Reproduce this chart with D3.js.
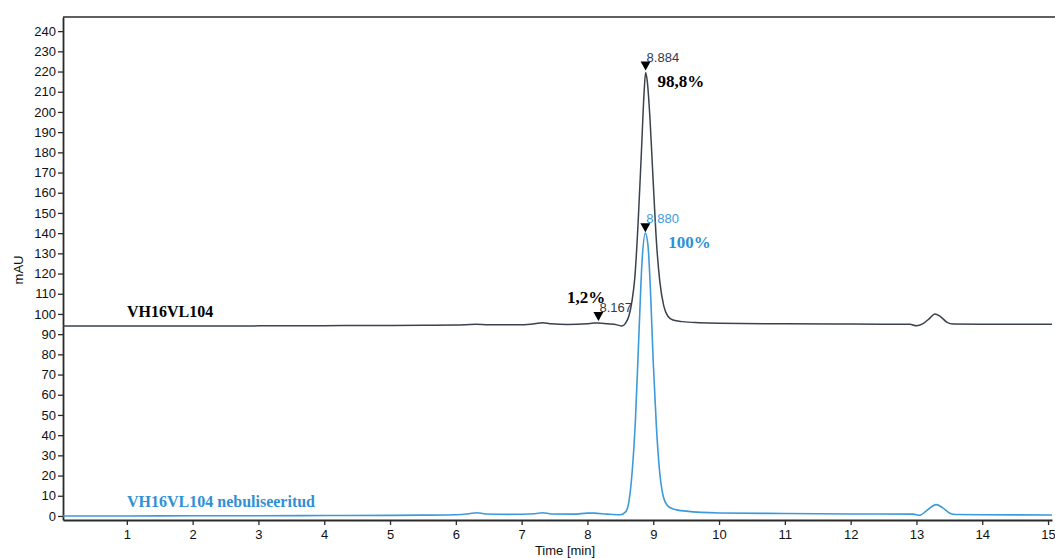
<!DOCTYPE html>
<html>
<head>
<meta charset="utf-8">
<script src="https://cdn.jsdelivr.net/npm/d3@7/dist/d3.min.js"></script>
<style>
  html, body { margin: 0; padding: 0; background: #ffffff; }
  svg { display: block; }
</style>
</head>
<body>
<svg id="chart" width="1055" height="558"></svg>
<script>
// ---- Data ----
const xTicks = [1,2,3,4,5,6,7,8,9,10,11,12,13,14,15];
const yTicks = [0,10,20,30,40,50,60,70,80,90,100,110,120,130,140,150,160,170,180,190,200,210,220,230,240];

// VH16VL104 (black trace): time [min]
const blackTime = [0.03, 1, 2, 3, 4, 5, 5.5, 6.0, 6.3, 6.5, 7.0, 7.2, 7.32, 7.45, 7.7, 8.0, 8.1, 8.167, 8.3, 8.45, 8.52, 8.58, 8.63, 8.68, 8.72, 8.77, 8.82, 8.86, 8.884, 8.91, 8.95, 9.0, 9.05, 9.1, 9.16, 9.22, 9.3, 9.45, 9.7, 10, 11, 12, 12.9, 13.0, 13.1, 13.2, 13.28, 13.36, 13.46, 13.56, 14, 15.06];
// VH16VL104 (black trace): signal [mAU]
const blackValue = [94.0, 94.0, 94.0, 94.1, 94.2, 94.3, 94.4, 94.5, 94.9, 94.6, 94.7, 95.2, 95.7, 95.1, 94.8, 95.2, 95.5, 95.5, 95.1, 94.6, 94.0, 95.5, 99, 107, 118, 145, 180, 209, 219.5, 215, 197, 165, 135, 116, 104, 99, 97, 96.2, 95.7, 95.4, 95.1, 95.0, 94.9, 94.1, 95.2, 97.8, 100, 98.8, 96.0, 95.0, 94.9, 94.9];

// VH16VL104 nebuliseeritud (blue trace): time [min]
const blueTime = [0.03, 1, 2, 3, 4, 5, 5.5, 6.0, 6.2, 6.32, 6.45, 6.8, 7.2, 7.32, 7.45, 7.8, 8.0, 8.1, 8.3, 8.5, 8.58, 8.63, 8.68, 8.73, 8.78, 8.83, 8.88, 8.92, 8.96, 9.0, 9.05, 9.1, 9.15, 9.22, 9.3, 9.5, 10, 11, 12, 12.95, 13.05, 13.15, 13.3, 13.4, 13.5, 13.6, 14, 15.06];
// VH16VL104 nebuliseeritud (blue trace): signal [mAU]
const blueValue = [0.0, 0.0, 0.1, 0.1, 0.2, 0.3, 0.4, 0.6, 1.1, 1.6, 1.0, 0.8, 1.1, 1.6, 1.0, 0.9, 1.4, 1.4, 0.9, 0.6, 2, 7, 22, 48, 88, 126, 140, 134, 110, 76, 43, 21, 10, 5, 3.5, 2.4, 1.5, 1.2, 1.0, 0.9, 0.3, 2.5, 5.6, 4.0, 1.5, 0.7, 0.6, 0.5];

// Peak markers
const peakTime = [8.884, 8.167, 8.880];
const peakValue = [220.5, 96.5, 140.5];
const peakLabel = ["8.884", "8.167", "8.880"];
const peakSeries = ["black", "black", "blue"];

// Annotations
const areaLabels = ["98,8%", "1,2%", "100%"];
const traceNames = ["VH16VL104", "VH16VL104 nebuliseeritud"];

// ---- Layout ----
const svg = d3.select("#chart");
const mLeft = 63, mRight = 1052, mTop = 17, mBottom = 520;
const x = d3.scaleLinear().domain([0.03, 15.06]).range([mLeft, mRight]);
const y = d3.scaleLinear().domain([-2, 247]).range([mBottom, mTop]);

const axisColor = "#2a2a2a";
const blackColor = "#3a424e";
const blueColor = "#3d9ad9";
const blueText = "#2f90d6";
const sans = "Liberation Sans, Arial, sans-serif";

// Top border
svg.append("line").attr("x1", mLeft).attr("x2", 1055).attr("y1", mTop).attr("y2", mTop)
  .attr("stroke", axisColor).attr("stroke-width", 1.6);

// Y axis
const yAxis = svg.append("g").attr("transform", `translate(${mLeft},0)`)
  .call(d3.axisLeft(y).tickValues(yTicks).tickSize(5).tickPadding(2).tickSizeOuter(0));
yAxis.select(".domain").attr("stroke", axisColor).attr("stroke-width", 1.8);
yAxis.selectAll(".tick line").attr("stroke", axisColor).attr("stroke-width", 1.3);
yAxis.selectAll(".tick text").attr("font-family", sans)
  .attr("font-size", 13).attr("fill", "#111");

// X axis
const xAxis = svg.append("g").attr("transform", `translate(0,${mBottom})`)
  .call(d3.axisBottom(x).tickValues(xTicks).tickSize(5).tickPadding(5).tickSizeOuter(0));
xAxis.select(".domain").attr("stroke", axisColor).attr("stroke-width", 1.8);
xAxis.selectAll(".tick line").attr("stroke", axisColor).attr("stroke-width", 1.3);
xAxis.selectAll(".tick text").attr("font-family", sans)
  .attr("font-size", 13).attr("fill", "#111");

// Axis titles
svg.append("text").attr("x", 565).attr("y", 555)
  .attr("text-anchor", "middle").attr("font-family", sans)
  .attr("font-size", 13).attr("fill", "#111").text("Time [min]");
svg.append("text").attr("transform", "translate(23,270) rotate(-90)")
  .attr("text-anchor", "middle").attr("font-family", sans)
  .attr("font-size", 13).attr("fill", "#111").text("mAU");

// Traces
const line = d3.line().x(d => x(d[0])).y(d => y(d[1])).curve(d3.curveMonotoneX);
const blackData = d3.zip(blackTime, blackValue);
const blueData = d3.zip(blueTime, blueValue);

svg.append("path").datum(blueData).attr("d", line)
  .attr("fill", "none").attr("stroke", blueColor).attr("stroke-width", 1.6);
svg.append("path").datum(blackData).attr("d", line)
  .attr("fill", "none").attr("stroke", blackColor).attr("stroke-width", 1.5);

// Peak markers (downward triangles with tip at the peak)
peakTime.forEach((t, i) => {
  const px = x(t), py = y(peakValue[i]);
  svg.append("path")
    .attr("d", `M${px-5},${py-9} L${px+5},${py-9} L${px},${py} Z`)
    .attr("fill", "#000");
  svg.append("text").attr("x", px + 1).attr("y", py - 9)
    .attr("font-family", sans).attr("font-size", 13)
    .attr("fill", peakSeries[i] === "blue" ? blueColor : "#2e3a50")
    .text(peakLabel[i]);
});

// Area percentage labels
const serif = "Liberation Serif, Times New Roman, serif";
svg.append("text").attr("x", x(peakTime[0]) + 12).attr("y", 87)
  .attr("font-family", serif).attr("font-weight", "bold").attr("font-size", 17)
  .attr("fill", "#000").text(areaLabels[0]);
svg.append("text").attr("x", 567).attr("y", 303)
  .attr("font-family", serif).attr("font-weight", "bold").attr("font-size", 17)
  .attr("fill", "#000").text(areaLabels[1]);
svg.append("text").attr("x", x(peakTime[2]) + 23).attr("y", 248)
  .attr("font-family", serif).attr("font-weight", "bold").attr("font-size", 17)
  .attr("fill", blueText).text(areaLabels[2]);

// Trace names
svg.append("text").attr("x", 127).attr("y", 317)
  .attr("font-family", serif).attr("font-weight", "bold").attr("font-size", 16)
  .attr("fill", "#000").text(traceNames[0]);
svg.append("text").attr("x", 127).attr("y", 507)
  .attr("font-family", serif).attr("font-weight", "bold").attr("font-size", 16)
  .attr("fill", blueText).text(traceNames[1]);
</script>
</body>
</html>
